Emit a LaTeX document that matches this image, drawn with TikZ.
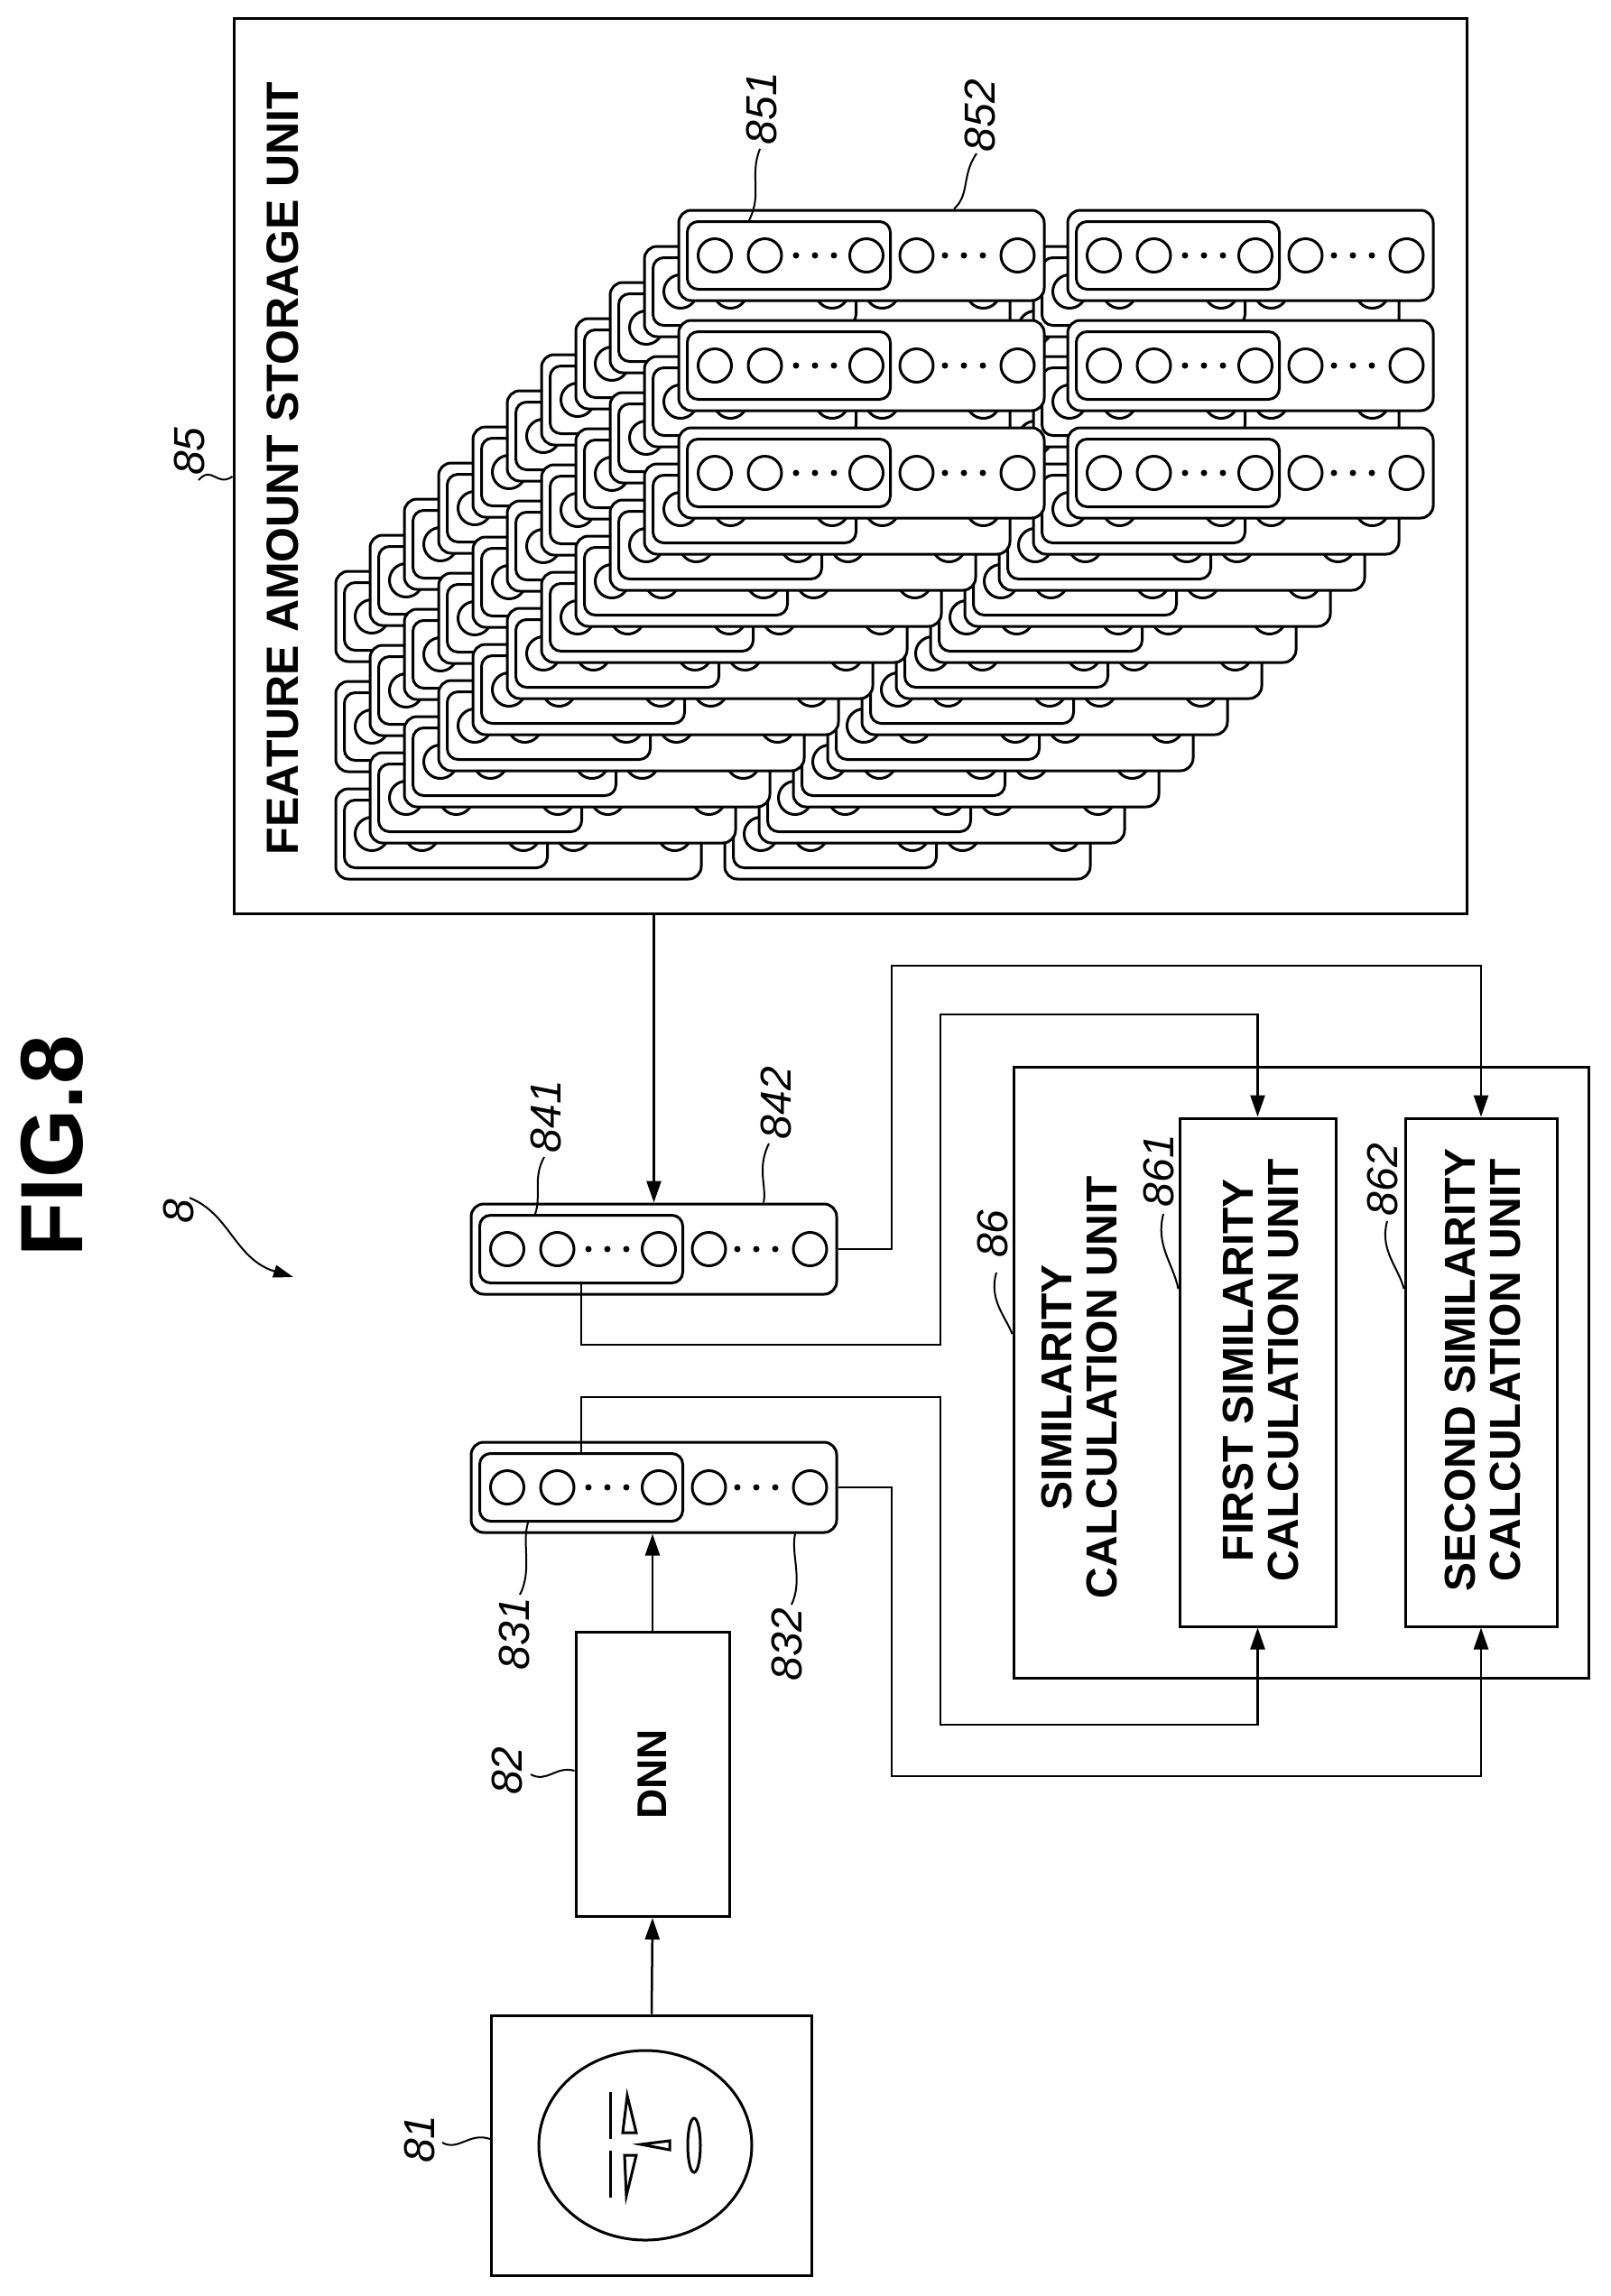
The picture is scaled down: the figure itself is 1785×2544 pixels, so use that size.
\documentclass[tikz,border=0pt]{standalone}
\usepackage{fontspec}
\setmainfont{Liberation Sans}
\usetikzlibrary{arrows.meta}
\tikzset{every picture/.style={line width=3pt}}
\tikzset{
  box/.style={draw, rectangle, inner sep=0pt},
  card/.style={draw, fill=white, rectangle, rounded corners=14pt, minimum width=405pt, minimum height=100pt, inner sep=0pt},
  cardin/.style={draw, rectangle, rounded corners=12pt, minimum width=225pt, minimum height=75pt, inner sep=0pt},
  unittext/.style={font=\fontsize{48}{50}\selectfont\bfseries, align=center, rotate=90},
  refnum/.style={font=\fontsize{48}{50}\selectfont\itshape, rotate=90, inner sep=0pt},
  lead/.style={line width=2pt},
  wire/.style={line width=2.5pt},
  arr/.style={wire, -{Triangle[length=24pt,width=16pt]}}
}
% one feature vector: outer card, first group and the elements
\newcommand\featcard[3]{%
  \begin{scope}[shift={(#2,#3)}]
    \node[card] (#1) at (202.5,50) {};
    \node[cardin] (#1-in) at (122,50) {};
    \foreach \cx in {40,95.5,208,263.5,375.5} \draw (\cx,50) circle[radius=18.5];
    \foreach \dx in {130,151,172,295,316,337} \fill (\dx,50) circle[radius=3.5];
  \end{scope}}

\begin{document}
\begin{tikzpicture}[x=1pt,y=-1pt]
  \useasboundingbox (0,0) rectangle (1785,2544);

  %Text Node: figure title
  \node[font=\fontsize{98}{98}\selectfont\bfseries, rotate=90] (fig) at (58,1270) {FIG.8};
  \node[refnum] (l8) at (198,1342) {8};
  \coordinate (p8) at (325,1415);
  \draw[lead, -{Triangle[length=22pt,width=14pt]}] (l8.east) ++(12,0) .. controls (255,1345) and (260,1395) .. (p8);

  %Shape: Rectangle [storage unit]
  \node[box, minimum width=1366pt, minimum height=992pt] (box85) at (942,516) {};
  \node[font=\fontsize{50}{50}\selectfont\bfseries, rotate=90] (t85) at (313,519) {FEATURE AMOUNT STORAGE UNIT};

  %Stack of stored feature vectors, back to front
  \foreach \k in {10,9,...,0}{
    \foreach \cx in {752,1183}{
      \foreach \ry in {233,355,474}{
        \featcard{s\k-\cx-\ry}{\cx-38*\k}{\ry+40*\k}
      }}}

  %Shape: Rectangle [input image]
  \node[box, minimum width=355pt, minimum height=288pt] (box81) at (722,2377) {};
  \draw (715,2377) ellipse[x radius=118, y radius=105];
  \draw (676,2318) -- (676,2370);
  \draw (676,2383) -- (676,2435);
  \draw (695,2322) -- (705,2363) -- (690,2363) -- cycle;
  \draw (692,2388) -- (705,2388) -- (694,2433) -- cycle;
  \draw (710,2376) -- (742,2372) -- (742,2382) -- cycle;
  \draw (769,2377) ellipse[x radius=7, y radius=30];

  %Shape: Rectangle [DNN]
  \node[box, minimum width=170pt, minimum height=315pt, font=\fontsize{46}{46}\selectfont\bfseries] (dnn82) at (723,1966) {\rotatebox{90}{DNN}};

  %Feature vectors of the query and of the stored entry
  \featcard{card841}{522}{1334}
  \featcard{card831}{522}{1598}

  %Shape: Rectangle [similarity units]
  \node[box, minimum width=637pt, minimum height=677pt] (unit86) at (1441.5,1520.5) {};
  \node[box, minimum width=173pt, minimum height=563pt] (unit861) at (1393.5,1520.5) {};
  \node[box, minimum width=168pt, minimum height=563pt] (unit862) at (1641,1520.5) {};
  \node[unittext] (t86) at (1196,1537) {SIMILARITY\\CALCULATION UNIT};
  \node[unittext] (t861) at (1397,1518) {FIRST SIMILARITY\\CALCULATION UNIT};
  \node[unittext] (t862) at (1643,1518) {SECOND SIMILARITY\\CALCULATION UNIT};

  %Straight Lines: data flow
  \draw[arr] (box81.north) -- (dnn82.south);
  \draw[arr] (dnn82.north) -- (card831.south -| dnn82.north);
  \draw[arr] (box85.south -| card841.north) -- (card841.north);
  \draw[arr] (card831-in.north) |- (1042,1548) |- (unit861.south |- 0,1911) -- (unit861.south);
  \draw[arr] (card831.east) -| (988,1968) -| (unit862.south);
  \draw[arr] (card841-in.south) |- (1042,1490) |- (unit861.north |- 0,1124) -- (unit861.north);
  \draw[arr] (card841.east) -| (988,1070) -| (unit862.north);

  %Reference numerals and leaders
  \node[refnum] (l85) at (210,500) {85};
  \draw[lead] (220,532) .. controls (235,515) and (240,540) .. (box85.west |- 0,528);
  \node[refnum] (l851) at (844,120) {851};
  \draw[lead] (842,165) .. controls (830,195) and (845,215) .. (s0-752-233-in.north -| 830,0);
  \node[refnum] (l852) at (1086,128) {852};
  \draw[lead] (1082,170) .. controls (1065,195) and (1075,215) .. (s0-752-233.north -| 1057,0);
  \node[refnum] (l841) at (605,1237) {841};
  \draw[lead] (603,1282) .. controls (590,1305) and (600,1325) .. (card841-in.north -| 593,0);
  \node[refnum] (l842) at (860,1222) {842};
  \draw[lead] (852,1267) .. controls (838,1295) and (850,1315) .. (card841.north -| 846,0);
  \node[refnum] (l831) at (570,1810) {831};
  \draw[lead] (576,1767) .. controls (590,1740) and (578,1710) .. (card831-in.south -| 585,0);
  \node[refnum] (l832) at (872,1822) {832};
  \draw[lead] (877,1778) .. controls (890,1750) and (876,1722) .. (card831.south -| 881,0);
  \node[refnum] (l82) at (562,1962) {82};
  \draw[lead] (588,1966) .. controls (606,1976) and (616,1956) .. (dnn82.west |- 0,1962);
  \node[refnum] (l81) at (465,2370) {81};
  \draw[lead] (490,2374) .. controls (508,2384) and (520,2362) .. (box81.west |- 0,2370);
  \node[refnum] (l86) at (1100,1367) {86};
  \draw[lead] (1104,1410) .. controls (1095,1440) and (1115,1460) .. (unit86.west |- 0,1478);
  \node[refnum] (l861) at (1284,1297) {861};
  \draw[lead] (1289,1345) .. controls (1280,1380) and (1300,1400) .. (unit861.west |- 0,1428);
  \node[refnum] (l862) at (1532,1307) {862};
  \draw[lead] (1537,1353) .. controls (1528,1385) and (1550,1405) .. (unit862.west |- 0,1428);
\end{tikzpicture}
\end{document}
